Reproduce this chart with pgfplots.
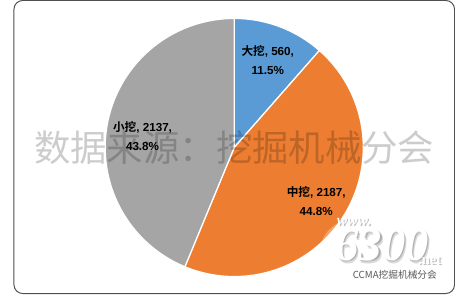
\documentclass[border=0pt]{standalone}
\usepackage{fontspec}
\setmainfont{Liberation Sans}
\newfontfamily\cjk{Noto Sans CJK SC}[BoldFont={Noto Sans CJK SC Bold}]
\newfontfamily\logofont{Liberation Serif}
\usepackage{pgfplots}
\usepackage{pgfplotstable}
\pgfplotsset{compat=1.18}

\definecolor{pieblue}{RGB}{91,155,213}
\definecolor{pieorange}{RGB}{237,125,49}
\definecolor{piegray}{RGB}{165,165,165}
\definecolor{framegray}{RGB}{80,80,80}

% Excavator sales by size class
\pgfplotstableread{
class  units
large  560
medium 2187
small  2137
}\excavators

\begin{document}
\pgfplotstablegetelem{0}{units}\of\excavators \let\vLarge\pgfplotsretval
\pgfplotstablegetelem{1}{units}\of\excavators \let\vMedium\pgfplotsretval
\pgfplotstablegetelem{2}{units}\of\excavators \let\vSmall\pgfplotsretval
\pgfmathsetmacro\total{\vLarge+\vMedium+\vSmall}
% slices run clockwise from 12 o'clock
\pgfmathsetmacro\aA{90}
\pgfmathsetmacro\aB{\aA-360*(\vLarge/\total)}
\pgfmathsetmacro\aC{\aB-360*(\vMedium/\total)}
\pgfmathsetmacro\aD{\aC-360*(\vSmall/\total)}
\begin{tikzpicture}
\fill[white] (0,0) rectangle (455pt,303pt);

\begin{axis}[
  at={(227.5pt,151pt)}, anchor=center,
  width=266pt, height=266pt, scale only axis,
  xmin=-1, xmax=1, ymin=-1, ymax=1,
  hide axis, clip=false,
  every axis plot/.append style={data cs=polar, draw=white, line width=1.3pt},
]
\addplot[fill=pieblue, domain=\aB:\aA, samples=40] (x,1) -- (axis cs:0,0) -- cycle;
\addplot[fill=pieorange, domain=\aC:\aB, samples=120] (x,1) -- (axis cs:0,0) -- cycle;
\addplot[fill=piegray, domain=\aD:\aC, samples=120] (x,1) -- (axis cs:0,0) -- cycle;
\end{axis}

% source watermark
\node[font=\cjk\fontsize{37.5}{40}\selectfont, text=black, opacity=0.2, inner sep=0pt]
  at (227.5pt,151pt) {数据来源：挖掘机械分会};

% slice labels
\begin{scope}[every node/.style={align=center, inner sep=0pt, font=\bfseries\fontsize{12}{20}\selectfont}]
\node at (262pt,241pt) {{\cjk\bfseries 大挖}, 560,\\11.5\%};
\node at (312pt,96pt) {{\cjk\bfseries 中挖}, 2187,\\44.8\%};
\node at (133pt,163pt) {{\cjk\bfseries 小挖}, 2137,\\43.8\%};
\end{scope}

% site logo with a soft white halo
\fill[white, opacity=0.3] (385pt,48pt) ellipse [x radius=68pt, y radius=38pt];
\fill[white, opacity=0.3] (385pt,48pt) ellipse [x radius=58pt, y radius=30pt];
\begin{scope}[every node/.style={inner sep=0pt}]
\node[font=\logofont\itshape\bfseries\fontsize{16}{16}\selectfont, text=black, opacity=0.25] at (352.2pt,72.8pt) {www.};
\node[font=\logofont\itshape\bfseries\fontsize{16}{16}\selectfont, text=white] at (351pt,74pt) {www.};
\node[font=\logofont\itshape\bfseries\fontsize{48}{48}\selectfont, text=black, opacity=0.15] at (382.4pt,47.6pt) {6300};
\node[font=\logofont\itshape\bfseries\fontsize{48}{48}\selectfont, text=black, opacity=0.2] at (381.2pt,48.8pt) {6300};
\node[font=\logofont\itshape\bfseries\fontsize{48}{48}\selectfont, text=white] at (380pt,50pt) {6300};
\node[font=\logofont\bfseries\fontsize{15}{15}\selectfont, text=black, opacity=0.25] at (430.2pt,33.8pt) {.net};
\node[font=\logofont\bfseries\fontsize{15}{15}\selectfont, text=white] at (429pt,35pt) {.net};
\node[font=\cjk\fontsize{10}{10}\selectfont, text=black!65] at (393pt,20pt) {CCMA挖掘机械分会};
\end{scope}

\draw[framegray, line width=1pt, rounded corners=9pt] (0.5pt,0.5pt) rectangle (454.5pt,302.5pt);
\pgfresetboundingbox
\useasboundingbox (0,0) rectangle (455pt,303pt);
\end{tikzpicture}
\end{document}
